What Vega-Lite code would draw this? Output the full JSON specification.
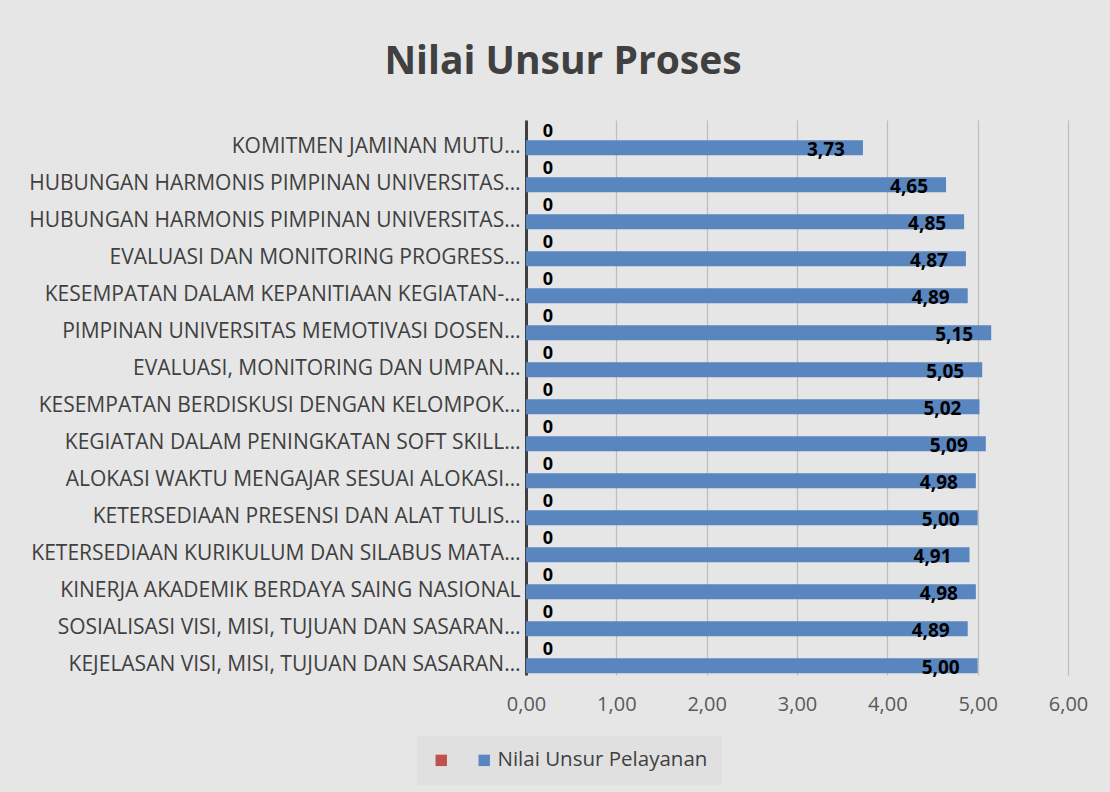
{
  "$schema": "https://vega.github.io/schema/vega-lite/v6.json",
  "width": 542,
  "height": 555,
  "autosize": {"type": "none"},
  "padding": {"left": 526, "top": 120, "right": 42, "bottom": 117},
  "background": "#e6e6e6",
  "config": {
    "locale": {"number": {"decimal": ",", "thousands": ".", "grouping": [3], "currency": ["", ""]}},
    "font": "Open Sans",
    "view": {"stroke": null}
  },
  "title": {
    "text": "Nilai Unsur Proses",
    "fontSize": 39,
    "fontWeight": "bold",
    "color": "#404040",
    "font": "Open Sans",
    "anchor": "middle",
    "dx": -234,
    "offset": 38
  },
  "data": {
    "values": [
      {"key": "01 KOMITMEN JAMINAN MUTU…", "series": "A", "value": 0},
      {"key": "01 KOMITMEN JAMINAN MUTU…", "series": "Nilai Unsur Pelayanan", "value": 3.73},
      {"key": "02 HUBUNGAN HARMONIS PIMPINAN UNIVERSITAS…", "series": "A", "value": 0},
      {"key": "02 HUBUNGAN HARMONIS PIMPINAN UNIVERSITAS…", "series": "Nilai Unsur Pelayanan", "value": 4.65},
      {"key": "03 HUBUNGAN HARMONIS PIMPINAN UNIVERSITAS…", "series": "A", "value": 0},
      {"key": "03 HUBUNGAN HARMONIS PIMPINAN UNIVERSITAS…", "series": "Nilai Unsur Pelayanan", "value": 4.85},
      {"key": "04 EVALUASI DAN MONITORING PROGRESS…", "series": "A", "value": 0},
      {"key": "04 EVALUASI DAN MONITORING PROGRESS…", "series": "Nilai Unsur Pelayanan", "value": 4.87},
      {"key": "05 KESEMPATAN DALAM KEPANITIAAN KEGIATAN-…", "series": "A", "value": 0},
      {"key": "05 KESEMPATAN DALAM KEPANITIAAN KEGIATAN-…", "series": "Nilai Unsur Pelayanan", "value": 4.89},
      {"key": "06 PIMPINAN UNIVERSITAS MEMOTIVASI DOSEN…", "series": "A", "value": 0},
      {"key": "06 PIMPINAN UNIVERSITAS MEMOTIVASI DOSEN…", "series": "Nilai Unsur Pelayanan", "value": 5.15},
      {"key": "07 EVALUASI, MONITORING DAN UMPAN…", "series": "A", "value": 0},
      {"key": "07 EVALUASI, MONITORING DAN UMPAN…", "series": "Nilai Unsur Pelayanan", "value": 5.05},
      {"key": "08 KESEMPATAN BERDISKUSI DENGAN KELOMPOK…", "series": "A", "value": 0},
      {"key": "08 KESEMPATAN BERDISKUSI DENGAN KELOMPOK…", "series": "Nilai Unsur Pelayanan", "value": 5.02},
      {"key": "09 KEGIATAN DALAM PENINGKATAN SOFT SKILL…", "series": "A", "value": 0},
      {"key": "09 KEGIATAN DALAM PENINGKATAN SOFT SKILL…", "series": "Nilai Unsur Pelayanan", "value": 5.09},
      {"key": "10 ALOKASI WAKTU MENGAJAR SESUAI ALOKASI…", "series": "A", "value": 0},
      {"key": "10 ALOKASI WAKTU MENGAJAR SESUAI ALOKASI…", "series": "Nilai Unsur Pelayanan", "value": 4.98},
      {"key": "11 KETERSEDIAAN PRESENSI DAN ALAT TULIS…", "series": "A", "value": 0},
      {"key": "11 KETERSEDIAAN PRESENSI DAN ALAT TULIS…", "series": "Nilai Unsur Pelayanan", "value": 5.0},
      {"key": "12 KETERSEDIAAN KURIKULUM DAN SILABUS MATA…", "series": "A", "value": 0},
      {"key": "12 KETERSEDIAAN KURIKULUM DAN SILABUS MATA…", "series": "Nilai Unsur Pelayanan", "value": 4.91},
      {"key": "13 KINERJA AKADEMIK BERDAYA SAING NASIONAL ", "series": "A", "value": 0},
      {"key": "13 KINERJA AKADEMIK BERDAYA SAING NASIONAL ", "series": "Nilai Unsur Pelayanan", "value": 4.98},
      {"key": "14 SOSIALISASI VISI, MISI, TUJUAN DAN SASARAN…", "series": "A", "value": 0},
      {"key": "14 SOSIALISASI VISI, MISI, TUJUAN DAN SASARAN…", "series": "Nilai Unsur Pelayanan", "value": 4.89},
      {"key": "15 KEJELASAN VISI, MISI, TUJUAN DAN SASARAN…", "series": "A", "value": 0},
      {"key": "15 KEJELASAN VISI, MISI, TUJUAN DAN SASARAN…", "series": "Nilai Unsur Pelayanan", "value": 5.0}
    ]
  },
  "encoding": {
    "y": {
      "field": "key",
      "type": "nominal",
      "sort": "ascending",
      "scale": {"paddingInner": 0, "paddingOuter": 0},
      "axis": {
        "title": null,
        "labelExpr": "substring(datum.label, 3)",
        "labelFontSize": 21,
        "labelColor": "#404040",
        "labelLimit": 0,
        "labelPadding": 6,
        "labelOffset": 8,
        "ticks": false,
        "domainColor": "#404040",
        "domainWidth": 3,
        "grid": false
      }
    },
    "yOffset": {
      "field": "series",
      "type": "nominal",
      "sort": ["A", "Nilai Unsur Pelayanan"],
      "scale": {"paddingInner": 0.2, "paddingOuter": 0.1}
    },
    "x": {
      "field": "value",
      "type": "quantitative",
      "scale": {"domain": [0, 6], "nice": false},
      "axis": {
        "title": null,
        "values": [0, 1, 2, 3, 4, 5, 6],
        "format": ".2f",
        "labelFontSize": 20,
        "labelColor": "#595959",
        "labelPadding": 19,
        "labelFlush": false,
        "ticks": false,
        "domain": false,
        "grid": true,
        "gridColor": "#bdbdbd",
        "gridWidth": 1.2
      }
    }
  },
  "layer": [
    {
      "mark": {"type": "bar"},
      "encoding": {
        "color": {
          "field": "series",
          "type": "nominal",
          "sort": ["A", "Nilai Unsur Pelayanan"],
          "scale": {"domain": ["A", "Nilai Unsur Pelayanan"], "range": ["#c0504d", "#5a86c0"]},
          "legend": {
            "title": null,
            "orient": "none",
            "direction": "horizontal",
            "legendX": -109,
            "legendY": 616,
            "labelExpr": "datum.label == 'A' ? '' : datum.label",
            "labelFontSize": 20.5,
            "labelColor": "#404040",
            "labelLimit": 0,
            "symbolType": "square",
            "symbolSize": 130,
            "symbolStrokeWidth": 0,
            "labelOffset": 3,
            "columnPadding": 19,
            "fillColor": "#e0e0e0",
            "padding": 14
          }
        }
      }
    },
    {
      "transform": [{"filter": "datum.series == 'A'"}],
      "mark": {"type": "text", "align": "center", "dx": 22, "dy": 3, "fontSize": 18, "fontWeight": "bold", "color": "#000000"},
      "encoding": {
        "text": {"field": "value", "type": "quantitative", "format": "d"}
      }
    },
    {
      "transform": [{"filter": "datum.series != 'A'"}],
      "mark": {"type": "text", "align": "right", "dx": -18, "dy": 2, "fontSize": 19, "fontWeight": "bold", "color": "#000000"},
      "encoding": {
        "text": {"field": "value", "type": "quantitative", "format": ".2f"}
      }
    }
  ]
}
